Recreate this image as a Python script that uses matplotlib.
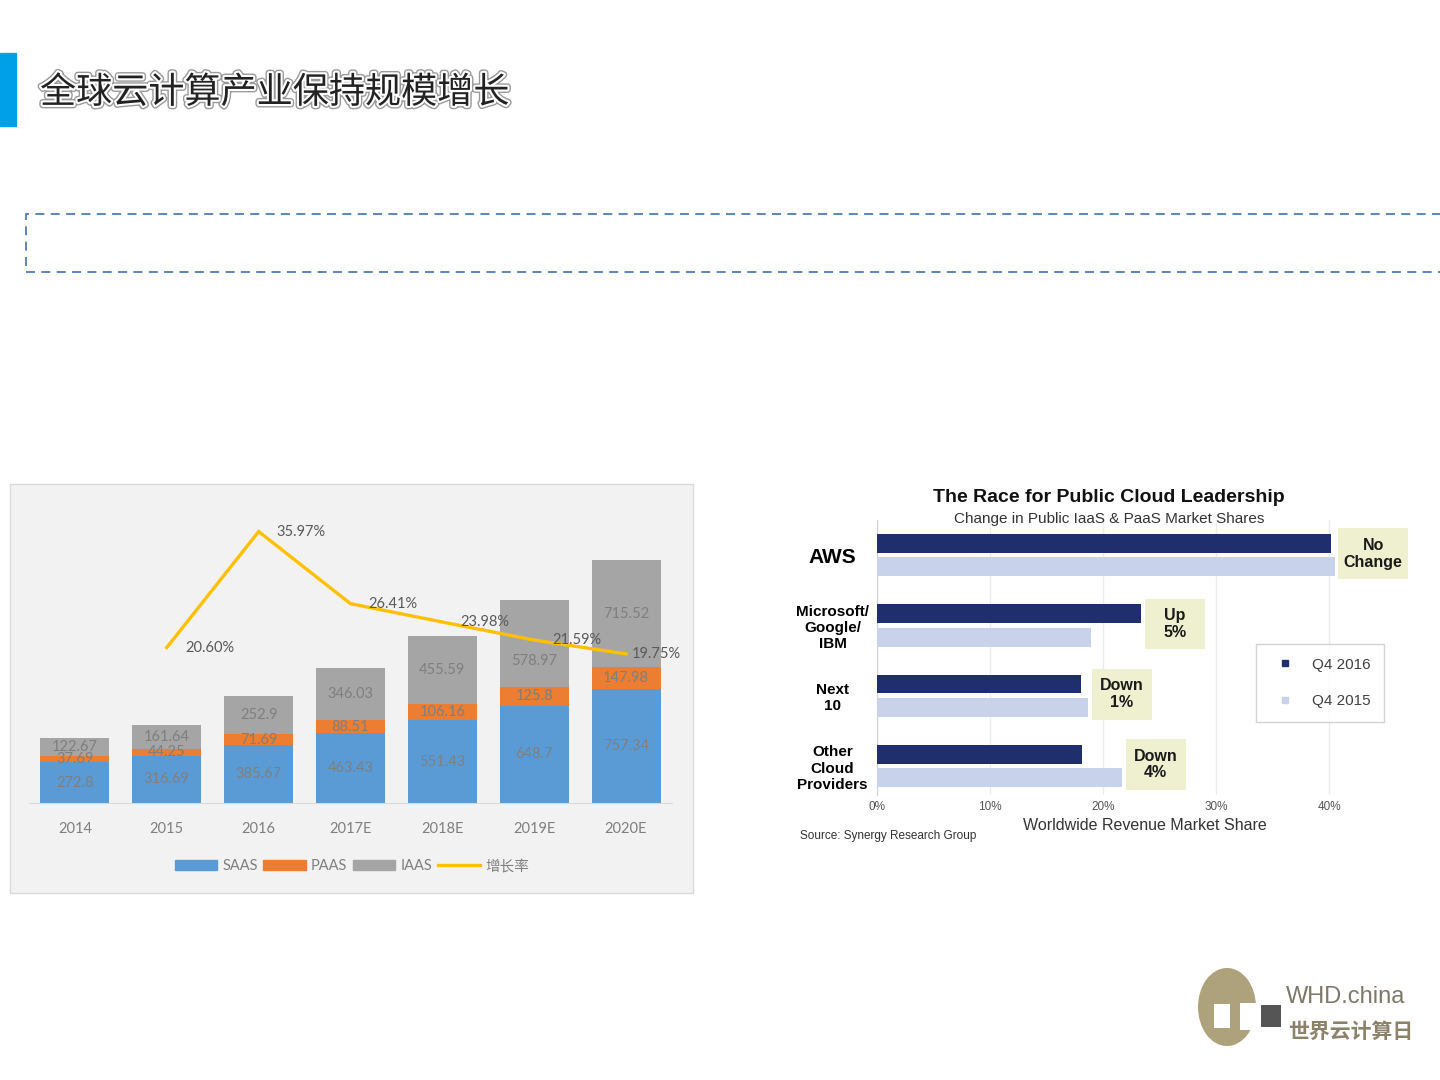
import matplotlib
matplotlib.use('Agg')
import matplotlib.pyplot as plt
import matplotlib.patheffects as pe
from matplotlib.patches import Rectangle, Ellipse, Patch
from matplotlib.lines import Line2D
import numpy as np

# left chart data (global cloud market, stacked)
years = ['2014', '2015', '2016', '2017E', '2018E', '2019E', '2020E']
saas = [272.8, 316.69, 385.67, 463.43, 551.43, 648.7, 757.34]
paas = [37.69, 44.25, 71.69, 88.51, 106.16, 125.8, 147.98]
iaas = [122.67, 161.64, 252.9, 346.03, 455.59, 578.97, 715.52]
growth = [None, 0.2060, 0.3597, 0.2641, 0.2398, 0.2159, 0.1975]
growth_labels = ['', '20.60%', '35.97%', '26.41%', '23.98%', '21.59%', '19.75%']

# right chart data (market share, %)
providers = ['AWS', 'Microsoft/\nGoogle/\nIBM', 'Next\n10', 'Other\nCloud\nProviders']
share_2016 = [40.2, 23.4, 18.05, 18.1]
share_2015 = [40.5, 18.9, 18.7, 21.7]
changes = ['No\nChange', 'Up\n5%', 'Down\n1%', 'Down\n4%']

plt.rcParams['font.family'] = ['Lato', 'Noto Sans CJK SC', 'DejaVu Sans']

W, H = 1440, 1080
fig = plt.figure(figsize=(14.4, 10.8), dpi=100)
fig.patch.set_facecolor('white')


def fx(px):
    return px / W


def fy(py):
    return 1 - py / H


def box(x0, y0, x1, y1):
    # axes rect from pixel corners
    return [fx(x0), fy(y1), fx(x1) - fx(x0), fy(y0) - fy(y1)]


def prect(x0, y0, x1, y1, **kw):
    fig.patches.append(Rectangle((fx(x0), fy(y1)), fx(x1) - fx(x0), fy(y0) - fy(y1),
                                 transform=fig.transFigure, **kw))


# header
prect(0, 53, 16, 126, color='#00a0e9', zorder=1)
fig.text(fx(40), fy(93), '全球云计算产业保持规模增长', fontsize=26,
         family=['Noto Sans CJK SC'], color='#222222', va='center', ha='left',
         path_effects=[pe.Stroke(linewidth=5, foreground='#9a9a9a'),
                       pe.Stroke(linewidth=3, foreground='white'), pe.Normal()])

# dashed box
prect(26, 214, 1460, 272, fill=False, ec='#4f7db3', lw=1.3, ls=(0, (5, 3.5)),
      clip_on=False)

# ---------------- left chart ----------------
prect(10, 484, 693, 893, fc='#f2f2f2', ec='#d9d9d9', lw=1, zorder=-1)

ax = fig.add_axes(box(29, 523, 672, 803))
ax.set_facecolor('none')
x = np.arange(len(years))
bw = 0.75
c_saas, c_paas, c_iaas, c_line = '#5b9bd5', '#ed7d31', '#a5a5a5', '#ffc000'
ax.bar(x, saas, bw, color=c_saas)
ax.bar(x, paas, bw, bottom=saas, color=c_paas)
bottom3 = np.array(saas) + np.array(paas)
ax.bar(x, iaas, bw, bottom=bottom3, color=c_iaas)

lab_col = '#7f7f7f'
iaas_nudge = [0, 0, 0, 0, 0, -13, 0]  # label moved off the line, in points
for i in range(len(years)):
    ax.text(x[i], saas[i] / 2, f'{saas[i]:g}', ha='center', va='center',
            fontsize=10.5, color=lab_col)
    ax.text(x[i], saas[i] + paas[i] / 2, f'{paas[i]:g}', ha='center', va='center',
            fontsize=10.5, color=lab_col)
    ax.annotate(f'{iaas[i]:g}', (x[i], bottom3[i] + iaas[i] / 2),
                xytext=(0, iaas_nudge[i]), textcoords='offset points',
                ha='center', va='center', fontsize=10.5, color=lab_col)

ax.set_xlim(-0.5, len(years) - 0.5)
ax.set_ylim(0, 1867)
ax.set_yticks([])
for s in ['top', 'left', 'right']:
    ax.spines[s].set_visible(False)
ax.spines['bottom'].set_color('#d9d9d9')
ax.set_xticks(x, years)
ax.tick_params(axis='x', length=0, pad=14, labelsize=10.5, labelcolor='#7f7f7f')

ax2 = ax.twinx()
ax2.set_ylim(0, 0.371)
ax2.axis('off')
gx = [i for i, g in enumerate(growth) if g is not None]
gy = [g for g in growth if g is not None]
ax2.plot(gx, gy, color=c_line, lw=2.4, solid_joinstyle='miter')
for i in gx:
    off = 13 if i < len(years) - 1 else 4
    ax2.annotate(growth_labels[i], (i, growth[i]), xytext=(off, 0),
                 textcoords='offset points', ha='left', va='center',
                 fontsize=10.5, color='#595959')

handles = [Patch(color=c_saas), Patch(color=c_paas), Patch(color=c_iaas),
           Line2D([], [], color=c_line, lw=2.4)]
fig.legend(handles, ['SAAS', 'PAAS', 'IAAS', '增长率'], loc='center',
           bbox_to_anchor=(fx(352), fy(866)), ncol=4, frameon=False,
           prop={'family': ['Lato', 'Noto Sans CJK SC'], 'size': 10.5},
           labelcolor='#7f7f7f', handlelength=2.9, handleheight=0.7,
           handletextpad=0.35, columnspacing=0.4)

# ---------------- right chart ----------------
arial = ['Liberation Sans', 'DejaVu Sans']
navy, pale = '#1f2f6e', '#c8d2ea'
bx = fig.add_axes(box(877, 520, 1415, 795))
bx.set_facecolor('none')
yy = np.arange(len(providers))
bh = 0.27
off = 0.166
bx.barh(yy - off, share_2016, bh, color=navy, zorder=3, label='Q4 2016')
bx.barh(yy + off, share_2015, bh, color=pale, zorder=3, label='Q4 2015')
bx.set_xlim(0, 47.6)
bx.set_ylim(3.414, -0.5)
bx.set_xticks([0, 10, 20, 30, 40], ['0%', '10%', '20%', '30%', '40%'])
bx.tick_params(axis='x', length=0, pad=4, labelsize=8.5, labelcolor='#555555')
for t in bx.get_xticklabels():
    t.set_family(arial)
bx.grid(axis='x', color='#ececec', lw=1, zorder=0)
for s in ['top', 'right', 'bottom']:
    bx.spines[s].set_visible(False)
bx.spines['left'].set_color('#d0d0d0')
bx.set_yticks(yy, providers)
bx.tick_params(axis='y', length=0, pad=32)
for i, t in enumerate(bx.get_yticklabels()):
    t.set_ha('center')
    t.set_multialignment('center')
    t.set_family(arial)
    t.set_fontweight('bold')
    t.set_fontsize(15 if i == 0 else 11)
    t.set_linespacing(1.2)

# change callouts
for i in range(len(providers)):
    left = max(share_2016[i], share_2015[i]) + 0.3
    wdt = 6.2 if i == 0 else 5.3
    bx.add_patch(Rectangle((left, i - 0.38), wdt, 0.72, fc='#eef0cf', ec='none',
                           zorder=4, clip_on=False))
    bx.text(left + wdt / 2, i - 0.02, changes[i], ha='center', va='center',
            fontsize=11.5, fontweight='bold', family=arial, color='#1a1a1a',
            zorder=5, linespacing=1.15)

lh = [Line2D([], [], marker='s', ls='none', color=navy, markersize=5),
      Line2D([], [], marker='s', ls='none', color=pale, markersize=5)]
leg = fig.legend(lh, ['Q4 2016', 'Q4 2015'], loc='center',
                 bbox_to_anchor=(fx(1320), fy(683)), frameon=True, fancybox=False,
                 prop={'family': arial, 'size': 11}, labelcolor='#404040',
                 labelspacing=1.5, borderpad=0.9, handletextpad=0.8,
                 borderaxespad=0)
leg.get_frame().set_edgecolor('#c8c8c8')
leg.get_frame().set_linewidth(1)

fig.text(fx(1109), fy(497), 'The Race for Public Cloud Leadership', ha='center',
         va='center', fontsize=14, fontweight='bold', family=arial, color='#111111')
fig.text(fx(1109), fy(519), 'Change in Public IaaS & PaaS Market Shares', ha='center',
         va='center', fontsize=11, family=arial, color='#333333')
fig.text(fx(1145), fy(825), 'Worldwide Revenue Market Share', ha='center',
         va='center', fontsize=11.5, family=arial, color='#333333')
fig.text(fx(800), fy(836), 'Source: Synergy Research Group', ha='left',
         va='center', fontsize=8.5, family=arial, color='#333333')

# ---------------- logo ----------------
tan = '#ada27c'
fig.patches.append(Ellipse((fx(1227), fy(1007)), 58 / W, 78 / H,
                           transform=fig.transFigure, fc=tan, ec='none'))
prect(1214, 1004, 1230, 1028, fc='white', ec='none')
prect(1240, 1003, 1260, 1030, fc='white', ec='none')
prect(1261, 1005, 1281, 1027, fc='#555555', ec='none')
fig.text(fx(1286), fy(997), 'WHD.china', ha='left', va='center', fontsize=17,
         family=arial, color='#7d7868')
fig.text(fx(1288), fy(1031), '世界云计算日', ha='left', va='center', fontsize=15,
         family=['Noto Sans CJK SC'], fontweight='bold', color='#8c826a')

fig.savefig('out.png', dpi=100)
